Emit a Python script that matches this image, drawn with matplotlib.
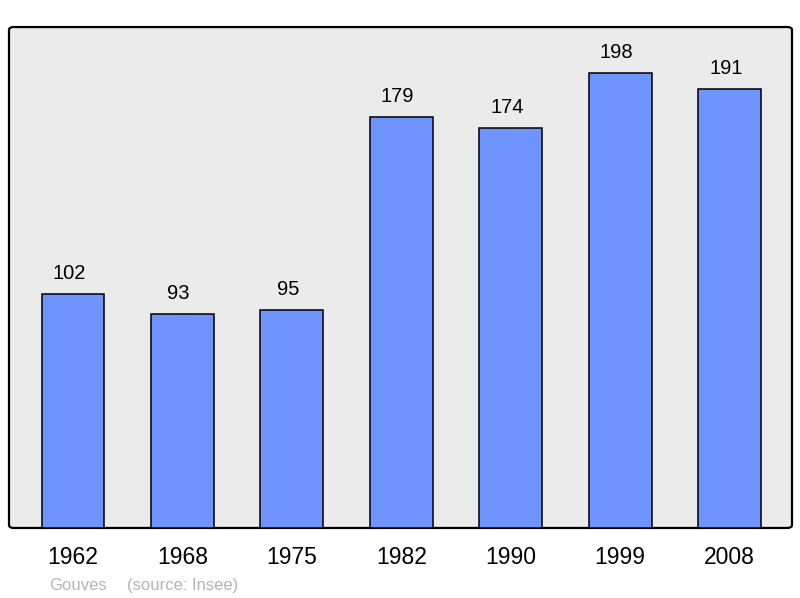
import matplotlib
matplotlib.use("Agg")
import matplotlib.pyplot as plt
from matplotlib.patches import FancyBboxPatch

years = ["1962", "1968", "1975", "1982", "1990", "1999", "2008"]
population = [102, 93, 95, 179, 174, 198, 191]
commune = "Gouves"
source = "(source: Insee)"

plt.rcParams['font.family'] = ['Liberation Sans', 'DejaVu Sans']

fig = plt.figure(figsize=(8, 5.98), dpi=100)
ax = fig.add_axes([0.01125, 0.1171, 0.97875, 0.8377])
ax.set_facecolor('none')

# rounded background frame
bg = FancyBboxPatch((0, 0), 1, 1, boxstyle="round,pad=0,rounding_size=0.006",
                    transform=ax.transAxes, facecolor='#ebebeb', edgecolor='#000000',
                    linewidth=1.6, zorder=0, clip_on=False)
ax.add_patch(bg)

x = list(range(len(years)))
bars = ax.bar(x, population, width=0.575, color='#7094ff', edgecolor='#000000',
              linewidth=1.1, zorder=2)
for xi, v in zip(x, population):
    ax.text(xi - 0.035, v + 4.8, str(v), ha='center', va='bottom', fontsize=14.5, color='#000000')

ax.set_xlim(-0.585, 6.57)
ax.set_ylim(0, 218)
ax.set_xticks(x)
ax.set_xticklabels(years, fontsize=16.5)
ax.tick_params(axis='x', length=0, pad=13)
ax.set_yticks([])
for s in ax.spines.values():
    s.set_visible(False)

fig.text(49 / 800, 1 - 585.5 / 598, commune, fontsize=12, color='#b4b4b4', va='center', ha='left')
fig.text(127 / 800, 1 - 585.5 / 598, source, fontsize=12, color='#b4b4b4', va='center', ha='left')

fig.savefig("out.png", dpi=100)
